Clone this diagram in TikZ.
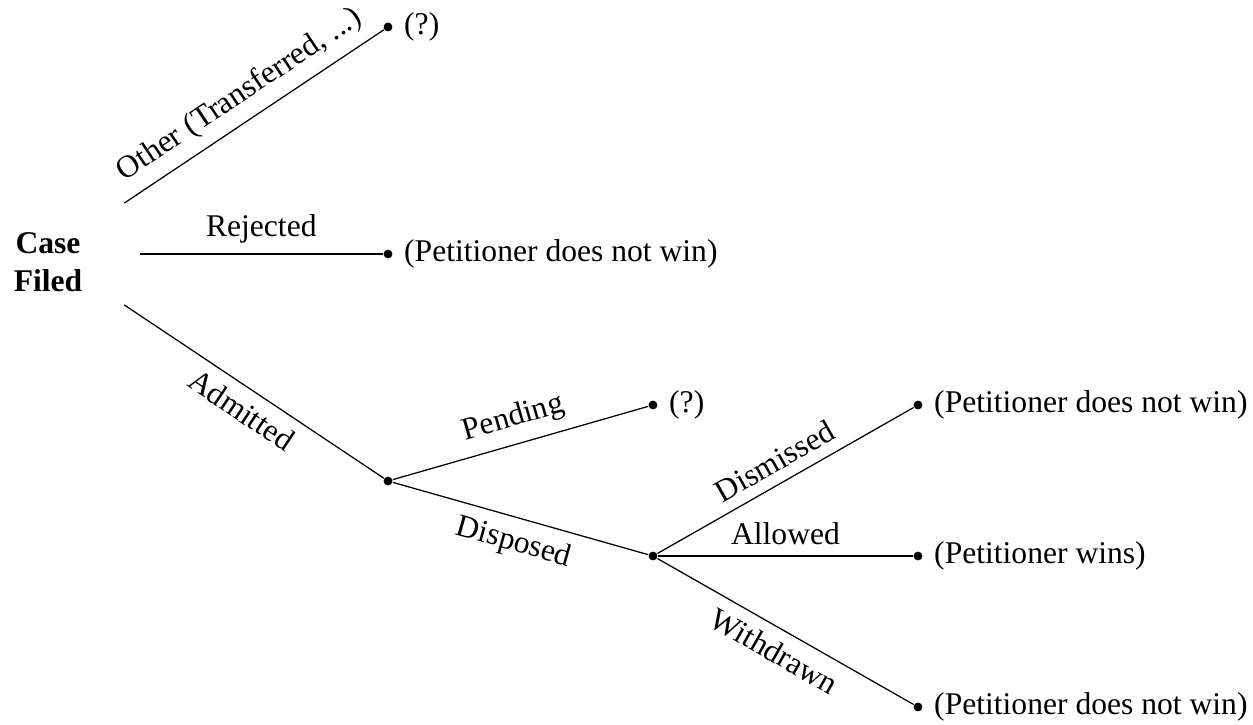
\documentclass[tikz,border=0pt]{standalone}
\usepackage{fontspec}
\setmainfont{Liberation Serif}

\tikzset{dot/.style={circle,fill,inner sep=0pt,minimum size=2.8pt},
         fork/.style={circle,inner sep=0pt,minimum size=57.6pt}}

\begin{document}
\begin{tikzpicture}[x=0.3165pt,y=-0.3165pt]
\useasboundingbox (0,0) rectangle (1253,724);
% root
\node[fork] (root) at (48,254) {};
\node[font=\bfseries,align=center] (casefiled) at (48,262) {Case\\Filed};
% first level
\node[dot,label=right:{(?)}] (other) at (388,27) {};
\node[dot,label=right:{(Petitioner does not win)}] (rejected) at (388,254) {};
\node[dot] (admitted) at (388,481) {};
% second level
\node[dot,label=right:{(?)}] (pending) at (653,405) {};
\node[dot] (disposed) at (653,556) {};
% outcomes
\node[dot,label=right:{(Petitioner does not win)}] (dismissed) at (918,405) {};
\node[dot,label=right:{(Petitioner wins)}] (allowed) at (918,556) {};
\node[dot,label=right:{(Petitioner does not win)}] (withdrawn) at (918,707) {};
% edges
\draw (root) -- node[above,sloped] {Other (Transferred, ...)} (other);
\draw (root) -- node[above] {Rejected} (rejected);
\draw (root) -- node[below,sloped] {Admitted} (admitted);
\draw (admitted) -- node[above,sloped] {Pending} (pending);
\draw (admitted) -- node[below,sloped] {Disposed} (disposed);
\draw (disposed) -- node[above,sloped] {Dismissed} (dismissed);
\draw (disposed) -- node[above] {Allowed} (allowed);
\draw (disposed) -- node[below,sloped] {Withdrawn} (withdrawn);
\end{tikzpicture}
\end{document}
